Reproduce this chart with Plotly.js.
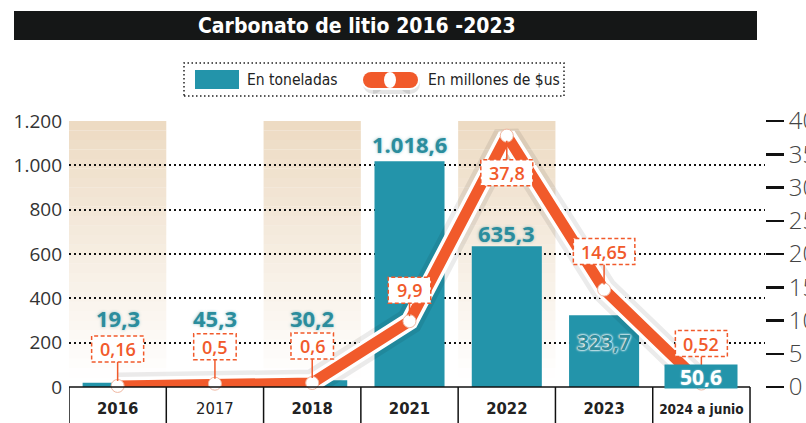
<!DOCTYPE html>
<html><head><meta charset="utf-8">
<script src="https://cdn.plot.ly/plotly-3.0.1.min.js"></script>
<style>html,body{margin:0;padding:0;background:#fff;}#chart{width:806px;height:423px;}</style>
</head><body><div id="chart"></div>
<script>
// ---- data ----
const categories = ['2016','2017','2018','2021','2022','2023','2024 a junio'];
const tons = [19.3, 45.3, 30.2, 1018.6, 635.3, 323.7, 50.6];
const tonLabels = ['19,3','45,3','30,2','1.018,6','635,3','323,7','50,6'];
const usd = [0.16, 0.5, 0.6, 9.9, 37.8, 14.65, 0.52];
const usdLabels = ['0,16','0,5','0,6','9,9','37,8','14,65','0,52'];
const leftTicks = [0, 200, 400, 600, 800, 1000, 1200];
const rightTicks = [0, 5, 10, 15, 20, 25, 30, 35, 40];
const shadedCats = ['2016','2018','2022'];
const titleText = 'Carbonato de litio 2016 -2023';
const legendNames = ['En toneladas','En millones de $us'];

// ---- style ----
const W = 806, H = 423, M = {l:69, r:41, t:121, b:36};
const TEAL = '#2394aa', TEAL_TXT = '#2b8d9d', ORANGE = '#f15a2b';
const NARROW = '"DejaVu Sans Condensed", "Liberation Sans Narrow", sans-serif';
const plotW = W - M.l - M.r, plotH = H - M.t - M.b;
const px = p => (p - M.l) / plotW;
const py = p => (H - M.b - p) / plotH;
const barShift = [65, 59, 62, 17, 13, -27, -1];
const usdShift = [37, 37, 37, 31, -37, 38, 40];

const shapes = [];
const annotations = [];

// shaded gradient columns
const N = 28;
shadedCats.forEach(c => {
  const i = categories.indexOf(c);
  for (let k = 0; k < N; k++) {
    const t = k / N;
    const a = Math.max(0, 1 - t * 1.05);
    shapes.push({type:'rect', xref:'x', yref:'paper', x0:i-0.5, x1:i+0.5,
      y0: 1 - (k+1)/N, y1: 1 - k/N, line:{width:0},
      fillcolor:`rgba(236,217,192,${(a*0.95).toFixed(3)})`, layer:'below'});
  }
});

// category box
shapes.push({type:'line', xref:'x', yref:'paper', x0:-0.5, x1:categories.length-0.5, y0:0, y1:0, line:{color:'#111', width:1.5}, layer:'above'});
for (let i = 0; i <= categories.length; i++) {
  shapes.push({type:'line', xref:'x', yref:'paper', x0:i-0.5, x1:i-0.5, y0:0, y1:py(440), line:{color:'#111', width:1.5}, layer:'above'});
}

// title bar
shapes.push({type:'rect', xref:'paper', yref:'paper', x0:px(14), x1:px(757), y0:py(40), y1:py(11), fillcolor:'#151717', line:{width:0}});
annotations.push({xref:'paper', yref:'paper', x:px(357), y:py(26), text:'<b>'+titleText+'</b>', showarrow:false,
  font:{family:NARROW, size:21, color:'#fff'}, xanchor:'center', yanchor:'middle'});

// legend
shapes.push({type:'rect', xref:'paper', yref:'paper', x0:px(184), x1:px(564), y0:py(96), y1:py(63), line:{color:'#222', width:1.5, dash:'1.5px,2.5px'}, fillcolor:'rgba(0,0,0,0)'});
shapes.push({type:'rect', xref:'paper', yref:'paper', x0:px(195), x1:px(239), y0:py(89), y1:py(70), fillcolor:TEAL, line:{width:0}});
annotations.push({xref:'paper', yref:'paper', x:px(245), y:py(80), text:legendNames[0], showarrow:false, xanchor:'left', yanchor:'middle',
  font:{family:NARROW, size:15.5, color:'#222'}});
const pill = (x0, x1, yc, r, col) => {
  shapes.push({type:'rect', xref:'paper', yref:'paper', x0:px(x0), x1:px(x1), y0:py(yc+r), y1:py(yc-r), fillcolor:col, line:{width:0}});
  shapes.push({type:'circle', xref:'paper', yref:'paper', x0:px(x0-r), x1:px(x0+r), y0:py(yc+r), y1:py(yc-r), fillcolor:col, line:{width:0}});
  shapes.push({type:'circle', xref:'paper', yref:'paper', x0:px(x1-r), x1:px(x1+r), y0:py(yc+r), y1:py(yc-r), fillcolor:col, line:{width:0}});
};
pill(373, 410, 84, 10, 'rgba(0,0,0,0.10)');
pill(371, 410, 80, 10, '#ffffff');
pill(371, 410, 80, 8, ORANGE);
shapes.push({type:'circle', xref:'paper', yref:'paper', x0:px(384), x1:px(396), y0:py(88), y1:py(72), fillcolor:'#fff', line:{width:0}});
annotations.push({xref:'paper', yref:'paper', x:px(426), y:py(80), text:legendNames[1], showarrow:false, xanchor:'left', yanchor:'middle',
  font:{family:NARROW, size:15.5, color:'#222'}});

// line labels: dashed boxes + connectors + text
usd.forEach((v, i) => {
  const lab = usdLabels[i];
  const w = 14 + 9.5 * lab.length;
  const dy = usdShift[i];
  const hh = 13;
  shapes.push({type:'line', xref:'x', yref:'y2', xsizemode:'pixel', ysizemode:'pixel', xanchor:i, yanchor:v,
    x0:0, x1:0, y0: dy > 0 ? dy - hh : dy + hh, y1: dy > 0 ? 5 : -5, line:{color:ORANGE, width:1.5}, layer:'above'});
  shapes.push({type:'rect', xref:'x', yref:'y2', xsizemode:'pixel', ysizemode:'pixel', xanchor:i, yanchor:v,
    x0:-w/2, x1:w/2, y0:dy-hh, y1:dy+hh, fillcolor:'#fff', line:{color:ORANGE, width:1.5, dash:'4px,2.5px'}, layer:'above'});
  annotations.push({x:i, y:v, xref:'x', yref:'y2', yshift:dy, text:lab, showarrow:false, xanchor:'center', yanchor:'middle',
    font:{family:'"Open Sans", sans-serif', size:18, color:ORANGE, weight:600}});
});

// bar labels
tons.forEach((v, i) => {
  const a = {x:i, y:v, xref:'x', yref:'y', yshift:barShift[i], text:'<b>'+tonLabels[i]+'</b>', showarrow:false,
    xanchor:'center', yanchor:'middle',
    font:{family:'"Open Sans", sans-serif', size:22, color:TEAL_TXT, shadow:'0 0 3px rgba(43,141,157,0.5)'}};
  if (i === categories.length - 1) {
    a.font = {family:'"Open Sans", sans-serif', size:21, color:'#fff', shadow:'0 0 2px rgba(255,255,255,0.6)'};
    a.bgcolor = TEAL; a.width = 70; a.height = 21;
  }
  if (i === 5) {
    a.font = {family:'"Open Sans", sans-serif', size:21, color:'#2f8d9c', shadow:'0 0 2px #fff, 0 0 2px #fff, 0 0 3px #fff'};
  }
  annotations.push(a);
});

const data = [
  {type:'bar', x:categories, y:tons, marker:{color:TEAL, line:{width:0}}, width:0.72, hoverinfo:'skip'},
  {type:'scatter', x:categories, y:usd, yaxis:'y2', mode:'lines', line:{color:'rgba(0,0,0,0.08)', width:27}, cliponaxis:false, hoverinfo:'skip'},
  {type:'scatter', x:categories, y:usd, yaxis:'y2', mode:'lines', line:{color:'#fff', width:18}, cliponaxis:false, hoverinfo:'skip'},
  {type:'scatter', x:categories, y:usd, yaxis:'y2', mode:'lines+markers', line:{color:ORANGE, width:11},
    marker:{size:13, color:'#fff', line:{color:'#f0b8a2', width:1}}, cliponaxis:false, hoverinfo:'skip'}
];

const tickText = categories.map(c => {
  if (c === '2017') return c;
  if (c.length > 4) return '<b><span style="font-size:13.5px">' + c + '</span></b>';
  return '<b>' + c + '</b>';
});

const layout = {
  width:W, height:H, margin:{l:M.l, r:M.r, t:M.t, b:M.b, pad:0},
  paper_bgcolor:'#fff', plot_bgcolor:'rgba(0,0,0,0)', showlegend:false, separators:',.',
  xaxis:{type:'category', range:[-0.5, 6.654], showgrid:false, zeroline:false, showline:false, ticks:'',
    tickvals:categories, ticktext:tickText, tickfont:{family:NARROW, size:16.5, color:'#222'},
    ticklabelstandoff:9, automargin:false, fixedrange:true},
  yaxis:{range:[0,1200], tickvals:leftTicks, tickformat:',', showgrid:true, gridcolor:'#111', gridwidth:1.8,
    griddash:'1.8px,3.2px', zeroline:false, showline:false, ticks:'',
    tickfont:{family:'"Open Sans", sans-serif', size:19, color:'#333', weight:400}, ticklabelstandoff:6, automargin:false, fixedrange:true},
  yaxis2:{overlaying:'y', side:'right', anchor:'x', range:[0,40], tickvals:rightTicks, showgrid:false, zeroline:false, showline:false,
    ticks:'outside', ticklen:18, tickwidth:2.5, tickcolor:'#111',
    tickfont:{family:'"Open Sans", sans-serif', size:24, color:'#444', weight:300}, ticklabelstandoff:0, automargin:false, fixedrange:true},
  shapes:shapes, annotations:annotations
};

Plotly.newPlot('chart', data, layout, {staticPlot:true, displayModeBar:false});
</script>
</body></html>
